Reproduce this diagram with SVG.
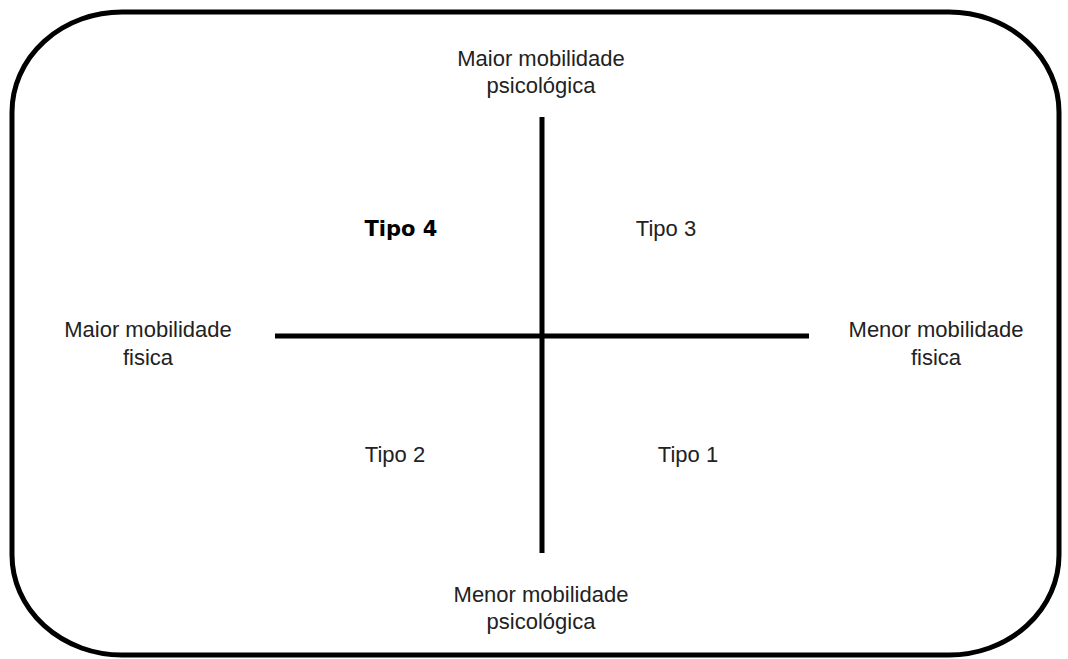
<svg xmlns="http://www.w3.org/2000/svg" width="1068" height="659" viewBox="0 0 1068 659">
  <style>
    .lbl { font-family: "Liberation Sans", Arial, sans-serif; font-size: 22px; fill: #222; text-anchor: middle; }
    .bold { font-family: "DejaVu Sans", Verdana, sans-serif; font-size: 21px; font-weight: bold; fill: #000; }
    .axis { stroke: #000; stroke-width: 5; fill: none; }
    .frame { stroke: #000; stroke-width: 5; fill: #fff; }
  </style>
  <rect width="1068" height="659" fill="#fff"/>
  <!-- outer rounded frame -->
  <rect id="frame" class="frame" x="12" y="12" width="1047" height="643" rx="110" ry="100"/>
  <!-- axes -->
  <g id="connectors">
    <line class="axis" x1="542" y1="117" x2="542" y2="553"/>
    <line class="axis" x1="275" y1="336" x2="809" y2="336"/>
  </g>
  <g id="top-label">
    <text class="lbl" x="541" y="66">Maior mobilidade</text>
    <text class="lbl" x="541" y="93">psicológica</text>
  </g>
  <g id="bottom-label">
    <text class="lbl" x="541" y="602">Menor mobilidade</text>
    <text class="lbl" x="541" y="629">psicológica</text>
  </g>
  <g id="left-label">
    <text class="lbl" x="148" y="337">Maior mobilidade</text>
    <text class="lbl" x="148" y="365">fisica</text>
  </g>
  <g id="right-label">
    <text class="lbl" x="936" y="337">Menor mobilidade</text>
    <text class="lbl" x="936" y="365">fisica</text>
  </g>
  <g id="tipo4"><text class="lbl bold" x="401" y="236">Tipo 4</text></g>
  <g id="tipo3"><text class="lbl" x="666" y="236">Tipo 3</text></g>
  <g id="tipo2"><text class="lbl" x="395" y="462">Tipo 2</text></g>
  <g id="tipo1"><text class="lbl" x="688" y="462">Tipo 1</text></g>
</svg>
